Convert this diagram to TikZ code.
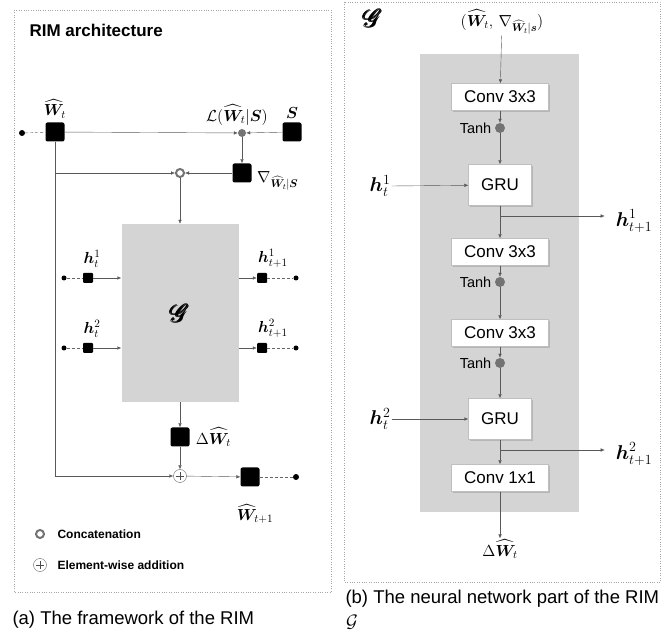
\RequirePackage{fix-cm}
\documentclass[tikz,border=0pt]{standalone}
\usepackage{amsmath}
\usepackage{bm}
\usepackage{mathrsfs}
\usepackage{fontspec}
\newfontfamily\arial{Liberation Sans}
\usepackage{tikz}
\usetikzlibrary{positioning,arrows.meta,shadows}

\tikzset{
  arr/.style={draw=black!65, -{Latex[length=4pt,width=3.5pt]}},
  dashline/.style={draw=black!60, densely dashed},
  blk/.style={fill=black, rounded corners=2pt, minimum size=19pt, inner sep=0pt},
  sblk/.style={fill=black, rounded corners=1pt, minimum size=10pt, inner sep=0pt},
  sdot/.style={circle, fill=black, minimum size=6pt, inner sep=0pt},
  gdot/.style={circle, fill=black!55, minimum size=8pt, inner sep=0pt},
  cat/.style={circle, draw=black!55, line width=2pt, fill=white, minimum size=8pt, inner sep=0pt},
  plus/.style={circle, draw=black!60, fill=white, minimum size=13pt, inner sep=0pt,
    path picture={\draw[black!70] ([xshift=-4pt]path picture bounding box.center) -- ([xshift=4pt]path picture bounding box.center)
      ([yshift=-4pt]path picture bounding box.center) -- ([yshift=4pt]path picture bounding box.center);}},
  wbox/.style={draw=black!25, fill=white, minimum width=97pt, minimum height=27pt, inner sep=0pt,
    font=\arial\fontsize{17}{19}\selectfont, drop shadow={shadow xshift=1.5pt, shadow yshift=-1.5pt, opacity=0.35}},
  small/.style={font=\fontsize{16}{18}\selectfont, inner sep=1pt},
  big/.style={font=\fontsize{20}{23}\selectfont, inner sep=1pt},
}

\begin{document}
\begin{tikzpicture}[x=1pt,y=-1pt]
\useasboundingbox (0,0) rectangle (662,644);

% (a) RIM framework
\draw[dotted, black!35] (14,10) rectangle (331,592);
\node[anchor=west, font=\arial\bfseries\fontsize{17}{19}\selectfont] (title) at (26,30) {RIM architecture};

\node[sdot] (win) at (22,133) {};
\node[blk] (wt) at (55,132) {};
\node[small, above=3pt of wt] (wtlab) {$\widehat{\bm W}_t$};
\node[gdot] (loss) at (242,133) {};
\node[small] (losslab) at (237,115) {$\mathcal{L}(\widehat{\bm W}_t|\bm S)$};
\node[blk] (s) at (292,132) {};
\node[small, above=3pt of s] (slab) {$\bm S$};
\node[blk] (grad) at (242,173) {};
\node[small, anchor=west] (gradlab) at (256,181) {$\nabla_{\widehat{\bm W}_t|\bm S}$};
\node[cat] (cat) at (180,173) {};

\node[fill=black!17, minimum width=117pt, minimum height=178pt, inner sep=0pt,
  font=\fontsize{34}{36}\selectfont] (g) at (180,313) {$\pmb{\mathscr{G}}$};

% hidden states in and out
\foreach \i/\y in {1/278, 2/348} {
  \node[sdot, minimum size=5pt] (hin\i) at (64,\y) {};
  \node[sblk] (hs\i) at (88,\y) {};
  \node[small, above=4pt of hs\i, xshift=4pt] (hlab\i) {$\bm h_t^{\i}$};
  \node[sblk] (ho\i) at (262,\y) {};
  \node[sdot, minimum size=5pt] (hout\i) at (296,\y) {};
  \node[small, above=4pt of ho\i, xshift=11pt] (holab\i) {$\bm h_{t+1}^{\i}$};
  \draw[dashline] (hin\i) -- (hs\i);
  \draw[arr] (hs\i) -- (hs\i -| g.west);
  \draw[arr] (ho\i -| g.east) -- (ho\i);
  \draw[dashline] (ho\i) -- (hout\i);
}

\node[blk] (dw) at (180,437) {};
\node[small, right=5pt of dw] (dwlab) {$\Delta\widehat{\bm W}_t$};
\node[plus] (add) at (180,476) {};
\node[blk] (wnext) at (250,477) {};
\node[sdot] (wout) at (296,477) {};
\node[small] (wnextlab) at (255,514) {$\widehat{\bm W}_{t+1}$};

\draw[dashline] (win) -- (wt);
\draw[arr] (wt) -- (loss);
\draw[arr] (s) -- (loss);
\draw[arr] (loss) -- (grad);
\draw[arr] (grad) -- (cat);
\draw[arr] (wt) |- (cat);
\draw[arr] (wt) |- (add);
\draw[arr] (cat) -- (g);
\draw[arr] (g) -- (dw);
\draw[arr] (dw) -- (add);
\draw[arr] (add) -- (wnext);
\draw[dashline] (wnext) -- (wout);

% legend
\node[cat] (lcat) at (40,534) {};
\node[anchor=west, font=\arial\bfseries\fontsize{12}{14}\selectfont] (lcatlab) at (54,534) {Concatenation};
\node[plus] (ladd) at (40,565) {};
\node[anchor=west, font=\arial\bfseries\fontsize{12}{14}\selectfont] (laddlab) at (54,565) {Element-wise addition};

\node[anchor=west, font=\arial\fontsize{18.5}{21}\selectfont] (capa) at (9,620) {(a) The framework of the RIM};

% (b) the network G
\draw[dotted, black!35] (344,2) rectangle (660,582);
\node[font=\fontsize{30}{32}\selectfont] (gtitle) at (373,18) {$\pmb{\mathscr{G}}$};
\node[small] (in) at (502,22) {$(\widehat{\bm W}_t,\,\nabla_{\widehat{\bm W}_t|\bm s})$};
\fill[black!17] (420,54) rectangle (579,512);

\node[wbox] (c1) at (500,97) {Conv 3x3};
\node[gdot, minimum size=10pt] (t1) at (500,128) {};
\node[wbox, minimum width=63pt, minimum height=41pt] (gru1) at (500,185) {GRU};
\node[wbox] (c2) at (500,252) {Conv 3x3};
\node[gdot, minimum size=10pt] (t2) at (500,282) {};
\node[wbox] (c3) at (500,333) {Conv 3x3};
\node[gdot, minimum size=10pt] (t3) at (500,363) {};
\node[wbox, minimum width=63pt, minimum height=41pt] (gru2) at (500,419) {GRU};
\node[wbox] (c4) at (500,478) {Conv 1x1};
\node[small] (out) at (500,549) {$\Delta\widehat{\bm W}_t$};

\foreach \t in {t1,t2,t3}
  \node[left=0pt of \t, font=\arial\fontsize{14.5}{16}\selectfont] {Tanh};

\coordinate (br1) at (500,216);
\coordinate (br2) at (500,450);
\node[big] (ht1) at (380,186) {$\bm h_t^1$};
\node[big] (hn1) at (634,221) {$\bm h_{t+1}^1$};
\node[big] (ht2) at (380,419) {$\bm h_t^2$};
\node[big] (hn2) at (634,454) {$\bm h_{t+1}^2$};

\draw[arr] (in) -- (c1);
\draw[arr] (c1) -- (t1);
\draw[arr] (t1) -- (gru1);
\draw[arr] (gru1) -- (c2);
\draw[arr] (c2) -- (t2);
\draw[arr] (t2) -- (c3);
\draw[arr] (c3) -- (t3);
\draw[arr] (t3) -- (gru2);
\draw[arr] (gru2) -- (c4);
\draw[arr] (c4) -- (out);
\draw[arr] (ht1.east) -- (gru1);
\draw[arr] (ht2.east) -- (gru2);
\draw[arr] (br1) -- ([xshift=-10pt]hn1.west |- br1);
\draw[arr] (br2) -- ([xshift=-10pt]hn2.west |- br2);

\node[anchor=west, font=\arial\fontsize{18.5}{21}\selectfont] (capb) at (342,599) {(b) The neural network part of the RIM};
\node[font=\fontsize{18}{20}\selectfont] (capg) at (352,622) {$\mathcal{G}$};
\end{tikzpicture}
\end{document}
